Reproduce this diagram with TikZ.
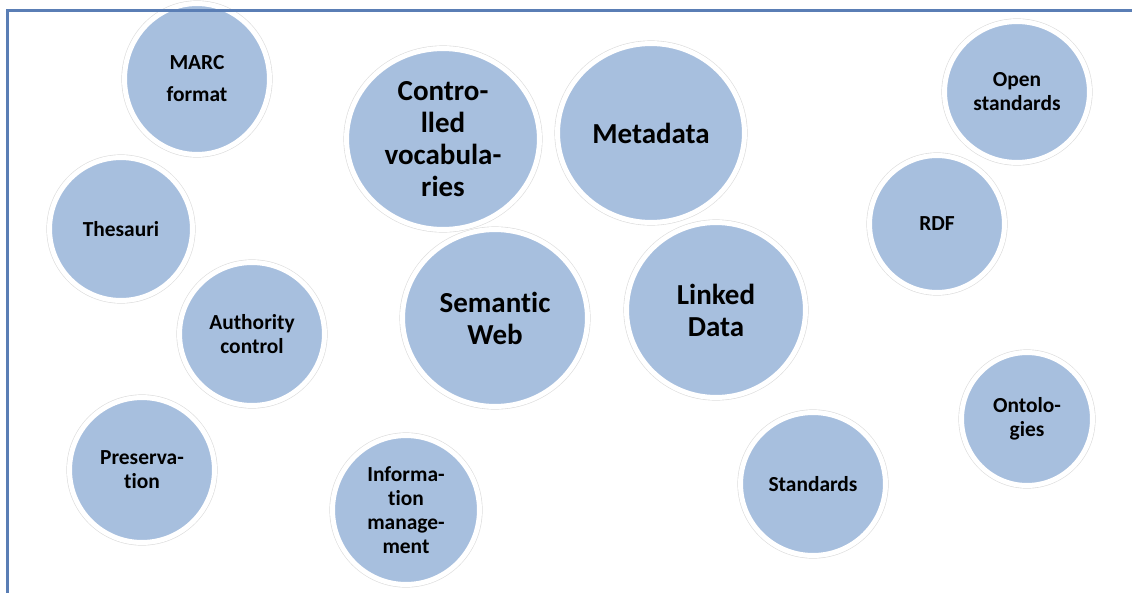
\documentclass[tikz,border=0pt]{standalone}
\usepackage{fontspec}
\setmainfont{Carlito}[Ligatures=NoCommon]
\usetikzlibrary{shapes.geometric}

\definecolor{bubfill}{HTML}{A7BFDE}
\definecolor{ringgray}{HTML}{DDDDDD}
\definecolor{framecol}{HTML}{5A7EB5}

\tikzset{
  bub/.style 2 args={ellipse, inner sep=0pt, align=center, font=\bfseries,
    minimum width=(#1+2.5)*0.04cm, minimum height=(#2+2.5)*0.04cm,
    fill=bubfill, draw=white, line width=0.1cm,
    preaction={draw=ringgray, line width=0.125cm}},
  small/.style={font=\bfseries\fontsize{12.2}{13.7}\selectfont},
  big/.style={font=\bfseries\fontsize{16.5}{18.2}\selectfont}
}

\begin{document}
\begin{tikzpicture}[x=0.02cm,y=-0.02cm]
%  \draw[step=50,gray,very thin] (0,0) grid(1132,592);	% for debug
  \useasboundingbox (0,0) rectangle (1132,592);
  % small bubbles
  \node[bub={70}{73}, small] (marc) at (197,79) {MARC\\[4.5pt]format};
  \node[bub={69}{69}, small] (thes) at (121,229) {Thesauri};
  \node[bub={70}{69}, small] (auth) at (252,334) {Authority\\control};
  \node[bub={70}{70}, small] (pres) at (142,470) {Preserva-\\tion};
  \node[bub={71}{72}, small] (info) at (406,510) {Informa-\\tion\\manage-\\ment};
  \node[bub={70}{68}, small] (open) at (1017,92) {Open\\standards};
  \node[bub={65}{66}, small] (rdf) at (937,224) {RDF};
  \node[bub={63}{64}, small] (onto) at (1027,419) {Ontolo-\\gies};
  \node[bub={70}{69}, small] (std) at (813,484) {Standards};
  % big bubbles
  \node[bub={94}{88}, big] (ctrl) at (443,139) {Contro-\\lled\\vocabula-\\ries};
  \node[bub={91}{87}, big] (meta) at (651,133) {Metadata};
  \node[bub={90}{86}, big] (sem) at (495,318) {Semantic\\Web};
  \node[bub={87}{85}, big] (link) at (716,310) {Linked\\Data};
  % frame
  \draw[framecol, line width=0.06cm] (1140,10) -- (7.5,10) -- (7.5,600);
\end{tikzpicture}
\end{document}
